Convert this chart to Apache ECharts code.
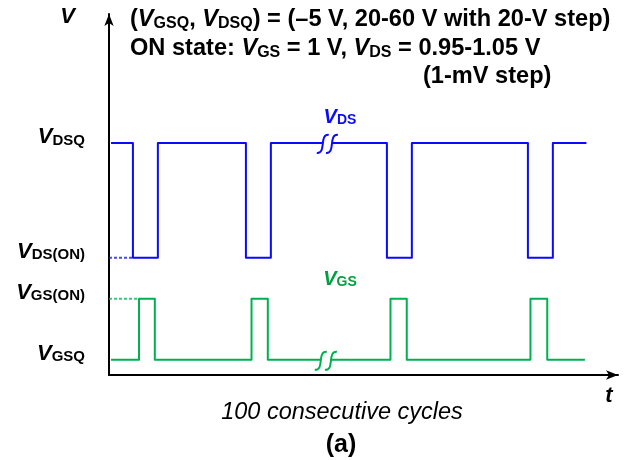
<!DOCTYPE html>
<html>
<head>
<meta charset="utf-8">
<script src="https://cdn.jsdelivr.net/npm/echarts@6/dist/echarts.min.js"></script>
<style>
  html, body { margin: 0; padding: 0; background: #fff; }
  #chart { width: 631px; height: 460px; }
</style>
</head>
<body>
<div id="chart"></div>
<script>
// ---------------- data (schematic units) ----------------
const yTickValues = [4.2, 21.1, 32.5, 64.3];
const yTickLabels = ['{v|V}{s|GSQ}', '{v|V}{s|GS(ON)}', '{v|V}{s|DS(ON)}', '{v|V}{s|DSQ}'];

const vdsLevels = [64.3, 32.5];           // [quiescent V_DSQ, on-state V_DS(ON)]
const vdsEdges  = [4.7, 9.6, 26.9, 31.8, 54.6, 59.5, 82.3, 87.2]; // (fall, rise) pairs
const vdsSpan   = [0.4, 93.8];
const vdsBreak  = [42.0, 43.8];

const vgsLevels = [4.2, 21.1];            // [quiescent V_GSQ, on-state V_GS(ON)]
const vgsEdges  = [5.9, 9.0, 28.0, 31.2, 55.3, 58.5, 82.8, 86.1]; // (rise, fall) pairs
const vgsSpan   = [0.4, 93.5];
const vgsBreak  = [41.6, 43.6];

const FONT = "'Liberation Sans', Arial, Helvetica, sans-serif";
const BLUE = '#0a0aff';
const GREEN = '#00b050';

function waveform(span, rest, active, edges, gap) {
  const pts = [[span[0], rest]];
  let gapDone = false;
  for (let i = 0; i < edges.length; i += 2) {
    const a = edges[i], b = edges[i + 1];
    if (!gapDone && gap[0] > pts[pts.length - 1][0] && gap[1] < a) {
      pts.push([gap[0], rest], [(gap[0] + gap[1]) / 2, '-'], [gap[1], rest]);
      gapDone = true;
    }
    pts.push([a, rest], [a, active], [b, active], [b, rest]);
  }
  pts.push([span[1], rest]);
  return pts;
}

function richSet(main, sub, color) {
  return {
    v: { fontFamily: FONT, fontSize: main, fontWeight: 'bold', fontStyle: 'italic', lineHeight: main, verticalAlign: 'bottom', color: color, fill: color },
    s: { fontFamily: FONT, fontSize: sub, fontWeight: 'bold', lineHeight: sub, verticalAlign: 'bottom', color: color, fill: color },
    n: { fontFamily: FONT, fontSize: main, fontWeight: 'bold', lineHeight: main, verticalAlign: 'bottom', color: color, fill: color }
  };
}
const richAxis = richSet(22, 15, '#000');
const richNote = richSet(23.6, 16, '#000');

function breakRender(color, gap) {
  return function (params, api) {
    const p = api.coord([api.value(0), api.value(1)]);
    const half = (api.coord([gap[1], 0])[0] - api.coord([gap[0], 0])[0]) / 2;
    const centers = [p[0] - half, p[0] + half];
    const cy = p[1] + 1;
    return {
      type: 'group',
      children: centers.map(cx => ({
        type: 'bezierCurve',
        shape: {
          x1: cx - 6, y1: cy + 9,
          cpx1: cx + 4, cpy1: cy + 10,
          cpx2: cx - 4, cpy2: cy - 10,
          x2: cx + 6, y2: cy - 9
        },
        style: { stroke: color, lineWidth: 2, fill: null }
      }))
    };
  };
}

const chart = echarts.init(document.getElementById('chart'), null, { renderer: 'canvas' });

const option = {
  animation: false,
  backgroundColor: '#fff',
  grid: { left: 109, right: 13, top: 14, bottom: 85, containLabel: false, outerBoundsMode: 'none' },
  xAxis: {
    type: 'value', min: 0, max: 100,
    axisLine: { show: true, onZero: false, symbol: ['none', 'arrow'], symbolSize: [7, 12], lineStyle: { color: '#000', width: 2 } },
    axisTick: { show: false }, axisLabel: { show: false }, splitLine: { show: false },
    name: 't', nameLocation: 'end', nameGap: -9,
    nameTextStyle: { fontFamily: FONT, fontSize: 22, fontWeight: 'bold', fontStyle: 'italic', color: '#000', align: 'center', verticalAlign: 'top', padding: [10, 0, 0, 0] }
  },
  yAxis: {
    type: 'value', min: 0, max: 100,
    axisLine: { show: true, onZero: false, symbol: ['none', 'arrow'], symbolSize: [7, 12], lineStyle: { color: '#000', width: 2 } },
    axisTick: { show: false }, splitLine: { show: false },
    axisLabel: {
      show: true, margin: 24, customValues: yTickValues,
      formatter: v => yTickLabels[yTickValues.indexOf(v)],
      rich: richAxis, padding: [0, 0, 12, 0]
    },
    name: 'V', nameLocation: 'end', nameGap: -3,
    nameTextStyle: { fontFamily: FONT, fontSize: 22, fontWeight: 'bold', fontStyle: 'italic', color: '#000', align: 'right', verticalAlign: 'middle', padding: [0, 34, 0, 0] }
  },
  series: [
    { type: 'line', data: waveform(vdsSpan, vdsLevels[0], vdsLevels[1], vdsEdges, vdsBreak), showSymbol: false, connectNulls: false,
      lineStyle: { color: BLUE, width: 2, join: 'round' }, itemStyle: { color: BLUE }, z: 3 },
    { type: 'line', data: [[0, vdsLevels[1]], [vdsEdges[0], vdsLevels[1]]], showSymbol: false,
      lineStyle: { color: BLUE, width: 2, type: [3, 2], opacity: 0.75 }, z: 2 },
    { type: 'line', data: waveform(vgsSpan, vgsLevels[0], vgsLevels[1], vgsEdges, vgsBreak), showSymbol: false, connectNulls: false,
      lineStyle: { color: GREEN, width: 2, join: 'round' }, itemStyle: { color: GREEN }, z: 3 },
    { type: 'line', data: [[0, vgsLevels[1]], [vgsEdges[0], vgsLevels[1]]], showSymbol: false,
      lineStyle: { color: GREEN, width: 2, type: [3, 2], opacity: 0.75 }, z: 2 },
    { type: 'custom', renderItem: breakRender(BLUE, vdsBreak), data: [[(vdsBreak[0] + vdsBreak[1]) / 2, vdsLevels[0]]], z: 4 },
    { type: 'custom', renderItem: breakRender(GREEN, vgsBreak), data: [[(vgsBreak[0] + vgsBreak[1]) / 2, vgsLevels[0]]], z: 4 }
  ],
  graphic: [
    { type: 'text', x: 130, y: 8, style: { text: '{n|(}{v|V}{s|GSQ}{n|, }{v|V}{s|DSQ}{n|) = (–5 V, 20-60 V with 20-V step)}', rich: richNote } },
    { type: 'text', x: 130, y: 37, style: { text: '{n|ON state: }{v|V}{s|GS}{n| = 1 V, }{v|V}{s|DS}{n| = 0.95-1.05 V}', rich: richNote } },
    { type: 'text', x: 423, y: 65, style: { text: '{n|(1-mV step)}', rich: richNote } },
    { type: 'text', x: 340, y: 117, style: { text: '{v|V}{s|DS}', rich: richSet(20, 14, BLUE), align: 'center', verticalAlign: 'middle' } },
    { type: 'text', x: 340, y: 279, style: { text: '{v|V}{s|GS}', rich: richSet(20, 14, '#00a040'), align: 'center', verticalAlign: 'middle' } },
    { type: 'text', x: 342, y: 412, style: { text: '100 consecutive cycles', fontFamily: FONT, fontSize: 23.5, fontStyle: 'italic', fill: '#000', align: 'center', verticalAlign: 'middle' } },
    { type: 'text', x: 341, y: 445, style: { text: '(a)', fontFamily: FONT, fontSize: 25, fontWeight: 'bold', fill: '#000', align: 'center', verticalAlign: 'middle' } }
  ]
};
chart.setOption(option);
</script>
</body>
</html>
